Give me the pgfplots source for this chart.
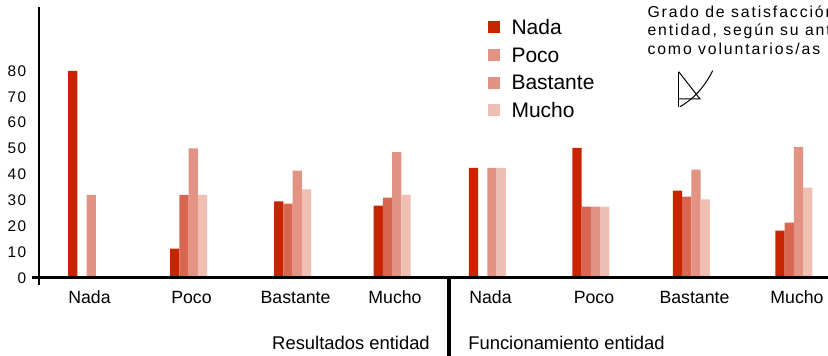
\documentclass[border=0pt]{standalone}
\usepackage{fontspec}
\setmainfont{Liberation Sans}
\newfontfamily\spacedfont[LetterSpace=12]{Liberation Sans}
\newfontfamily\tickfont[LetterSpace=9]{Liberation Sans}
\usepackage{pgfplots}
\usepackage{pgfplotstable}
\pgfplotsset{compat=1.18}
\definecolor{cNada}{HTML}{C82400}
\definecolor{cPoco}{HTML}{D96650}
\definecolor{cBast}{HTML}{E39383}
\definecolor{cMucho}{HTML}{EFBFB4}
\pgfplotstableread{
x nada poco bast mucho
0     80.0 0    32.0 0
1.005 11.2 32.0 50.0 32.0
2.03  29.5 28.7 41.4 34.2
3.01  27.9 31.0 48.6 32.0
3.95  42.5 0    42.5 42.5
4.97  50.2 27.5 27.5 27.5
5.96  33.7 31.4 41.8 30.3
6.97  18.2 21.3 50.6 34.8
}\data
\begin{document}
\begin{tikzpicture}
\useasboundingbox (0,0) rectangle (828pt,356pt);
\begin{axis}[
  at={(39pt,78.3pt)}, anchor=south west,
  scale only axis, width=789pt, height=270.4pt,
  xmin=-0.468, xmax=7.305, ymin=0, ymax=104.6,
  axis line style={draw=none}, major tick length=0pt,
  ytick={0,10,...,80},
  xtick={0,1.005,2.03,3.01,3.95,4.97,5.96,6.97},
  xticklabels={Nada,Poco,Bastante,Mucho,Nada,Poco,Bastante,Mucho},
  ybar=0pt, bar width=9.25pt,
  /pgf/number format/assume math mode=true,
  yticklabel style={font=\tickfont\fontsize{15.4}{16}\selectfont, inner sep=0pt, anchor=east, xshift=-12.6pt},
  xticklabel style={font=\fontsize{17.7}{18}\selectfont, inner sep=0pt, anchor=base, yshift=-25.7pt, xshift=3pt},
  clip=false,
  legend style={draw=none, fill=none, at={(0.569,0.9556)}, anchor=north west, inner sep=0pt,
    row sep=12.7pt, column sep=12pt, font=\fontsize{21}{21}\selectfont,
    nodes={inner sep=0pt, text height=15pt, text depth=0pt}},
  legend cell align=left,
]
\addlegendimage{legend image code/.code={\fill[cNada] (0pt,-5.5pt) rectangle (11pt,5.5pt);}}
\addlegendimage{legend image code/.code={\fill[cBast] (0pt,-5.5pt) rectangle (11pt,5.5pt);}}
\addlegendimage{legend image code/.code={\fill[cBast] (0pt,-5.5pt) rectangle (11pt,5.5pt);}}
\addlegendimage{legend image code/.code={\fill[cMucho] (0pt,-5.5pt) rectangle (11pt,5.5pt);}}
\addplot[fill=cNada, draw=none, bar shift=-13.875pt] table[x=x,y=nada]{\data};
\addplot[fill=cPoco, draw=none, bar shift=-4.625pt] table[x=x,y=poco]{\data};
\addplot[fill=cBast, draw=none, bar shift=4.625pt] table[x=x,y=bast]{\data};
\addplot[fill=cMucho, draw=none, bar shift=13.875pt] table[x=x,y=mucho]{\data};
\legend{Nada,Poco,Bastante,Mucho}
\draw[line width=2.7pt] (axis cs:-0.468,104.6) -- (axis cs:-0.468,-2.9);
\draw[line width=3.6pt] (axis cs:-0.537,0) -- (axis cs:7.305,0);
\draw[line width=4pt] (axis cs:3.571,0) -- (axis cs:3.571,-30.3);
\end{axis}
\node[anchor=base, inner sep=0pt, font=\fontsize{18.4}{19}\selectfont] at (351pt,6.5pt) {Resultados entidad};
\node[anchor=base, inner sep=0pt, font=\fontsize{18.4}{19}\selectfont] at (566.5pt,6.5pt) {Funcionamiento entidad};
\begin{scope}[font=\spacedfont\fontsize{15.8}{19}\selectfont]
\node[anchor=base west, inner sep=0pt] at (647.3pt,338.7pt) {Grado de satisfacción con la};
\node[anchor=base west, inner sep=0pt] at (647.3pt,320pt) {entidad, según su antigüedad};
\node[anchor=base west, inner sep=0pt] at (647.3pt,301pt) {como voluntarios/as};
\end{scope}
\begin{scope}[line width=1pt]
\draw (678.7pt,284.3pt) -- (678.7pt,249.3pt);
\draw (678.7pt,284.3pt) -- (700pt,257pt) -- (678.7pt,257pt);
\draw (712.7pt,285.3pt) .. controls (705pt,270pt) and (695pt,258pt) .. (680pt,249.3pt);
\end{scope}
\end{tikzpicture}
\end{document}
